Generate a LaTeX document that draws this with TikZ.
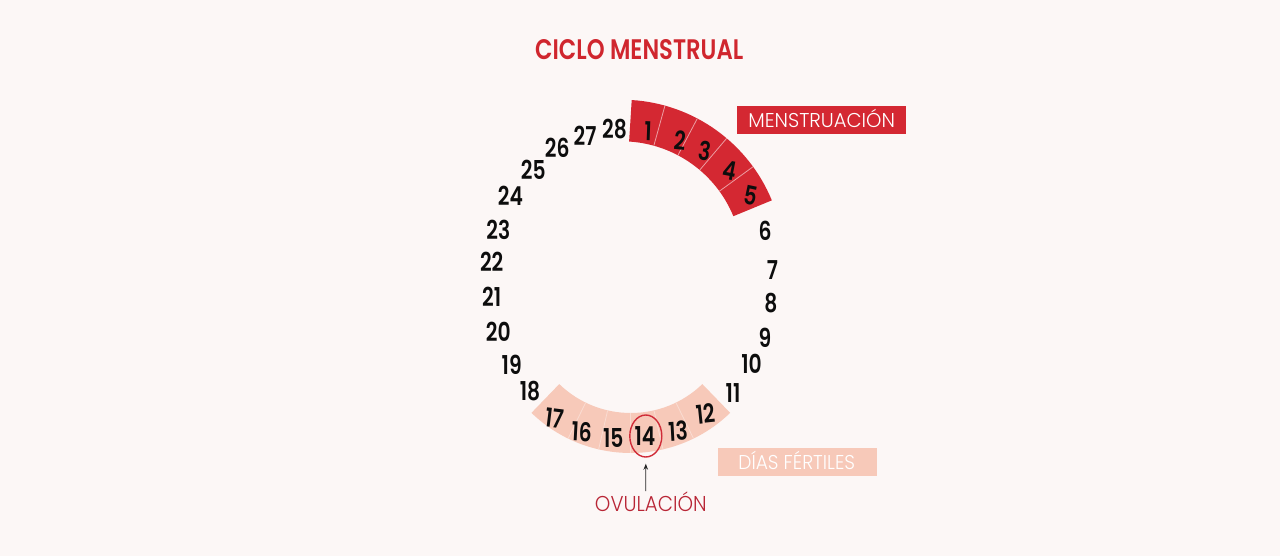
\documentclass[tikz,border=0pt]{standalone}
\usepackage{fontspec}
\setmainfont{Poppins}
\newfontfamily\thinfont{Poppins Light}
\newfontfamily\numfont{Poppins SemiBold}
\usepackage{graphicx}
\usetikzlibrary{shapes.geometric,arrows.meta}
\definecolor{bg}{RGB}{252,247,246}
\definecolor{redband}{RGB}{212,40,50}
\definecolor{titlered}{RGB}{208,38,46}
\definecolor{pinkband}{RGB}{247,201,185}
\definecolor{ovred}{RGB}{184,37,53}
\definecolor{ellred}{RGB}{208,44,56}
\newcommand{\nm}[1]{\scalebox{0.78}[1]{#1}}
\begin{document}
\begin{tikzpicture}[x=1pt,y=-1pt,
  num/.style={inner sep=0pt, text=black!95, font=\fontsize{26}{26}\selectfont\numfont},
  lbl/.style={inner sep=0pt, anchor=base},
  tag/.style={inner sep=0pt, draw=none}]
\useasboundingbox (0,0) rectangle (1280,556);
\fill[bg] (0,0) rectangle (1280,556);
% title
\node[lbl, text=titlered] (title) at (639.2,60) {\resizebox{208pt}{20pt}{\numfont CICLO MENSTRUAL}};
% red band (menstruation)
\begin{scope}[shift={(621.5,262.3)}]
\fill[redband] (-86.4:162.6) arc[start angle=-86.4,end angle=-22.4,radius=162.6]
  -- (-22.4:121) arc[start angle=-22.4,end angle=-86.4,radius=121] -- cycle;
\foreach \a in {-74.5,-62.2,-49.7,-36}
  \draw[white!55!redband, line width=0.8pt] (\a:121) -- (\a:162.6);
\end{scope}
% pink band (fertile days)
\begin{scope}[shift={(630.8,310)}]
\fill[pinkband] (46:143) arc[start angle=46,end angle=134,radius=143]
  -- (134:103) arc[start angle=134,end angle=46,radius=103] -- cycle;
\foreach \a in {64,77,90,103,116}
  \draw[white!35!pinkband, line width=0.8pt] (\a:103) -- (\a:143);
\end{scope}
% day numbers
\node[num, rotate=-2]  (d1)  at (648,131)   {\nm{1}};
\node[num, rotate=-6]  (d2)  at (680,140)   {\nm{2}};
\node[num, rotate=-9]  (d3)  at (705,151)   {\nm{3}};
\node[num, rotate=-11] (d4)  at (730,171)   {\nm{4}};
\node[num, rotate=-12] (d5)  at (750.5,196) {\nm{5}};
\node[num] (d6)  at (765,231)   {\nm{6}};
\node[num] (d7)  at (772.5,270) {\nm{7}};
\node[num] (d8)  at (771,303.5) {\nm{8}};
\node[num] (d9)  at (765,337.5) {\nm{9}};
\node[num] (d10) at (751.5,364) {\nm{10}};
\node[num] (d11) at (733,393)   {\nm{11}};
\node[num, rotate=6] (d12) at (705.5,413.5) {\nm{12}};
\node[num, rotate=3]  (d13) at (678,431)   {\nm{13}};
\node[num] (d14) at (645,436)   {\nm{14}};
\node[num] (d15) at (613.3,437.5) {\nm{15}};
\node[num, rotate=-3]  (d16) at (581.7,431.7) {\nm{16}};
\node[num, rotate=-7] (d17) at (554.5,418.3) {\nm{17}};
\node[num] (d18) at (530,391.5) {\nm{18}};
\node[num] (d19) at (511.7,365) {\nm{19}};
\node[num] (d20) at (498.3,331.7) {\nm{20}};
\node[num] (d21) at (491.7,296.7) {\nm{21}};
\node[num] (d22) at (491.7,261.7) {\nm{22}};
\node[num] (d23) at (498.3,230) {\nm{23}};
\node[num] (d24) at (510.5,195.5) {\nm{24}};
\node[num] (d25) at (533.3,170.3) {\nm{25}};
\node[num] (d26) at (557.3,148.3) {\nm{26}};
\node[num] (d27) at (585,135.5) {\nm{27}};
\node[num] (d28) at (614.5,129) {\nm{28}};
% ovulation
\node[draw=ellred, line width=1.4pt, ellipse, minimum width=32pt, minimum height=42pt, inner sep=0pt] (e14) at (645.8,436) {};
\node[lbl, text=ovred] (ovul) at (650.8,511.7) {\resizebox{111.7pt}{\height}{\thinfont\fontsize{21.5}{21.5}\selectfont OVULACIÓN}};
\coordinate (arrs) at (645.7,491);
\draw[-{Stealth[length=6pt,width=4.5pt]}, line width=0.8pt, black!85] (arrs) -- ([yshift=-6pt]e14.south);
% legend tags
\node[tag, fill=redband, minimum width=168.7pt, minimum height=28pt] (mbox) at (821.7,120) {};
\node[lbl, text=white] (mtxt) at (821.7,127.3) {\resizebox{146.7pt}{\height}{\thinfont\fontsize{20}{20}\selectfont MENSTRUACIÓN}};
\node[tag, fill=pinkband, minimum width=158.4pt, minimum height=27.7pt] (fbox) at (797.5,462.2) {};
\node[lbl, text=white] (ftxt) at (796.7,469.3) {\resizebox{116.7pt}{\height}{\thinfont\fontsize{20}{20}\selectfont DÍAS FÉRTILES}};
\end{tikzpicture}
\end{document}
